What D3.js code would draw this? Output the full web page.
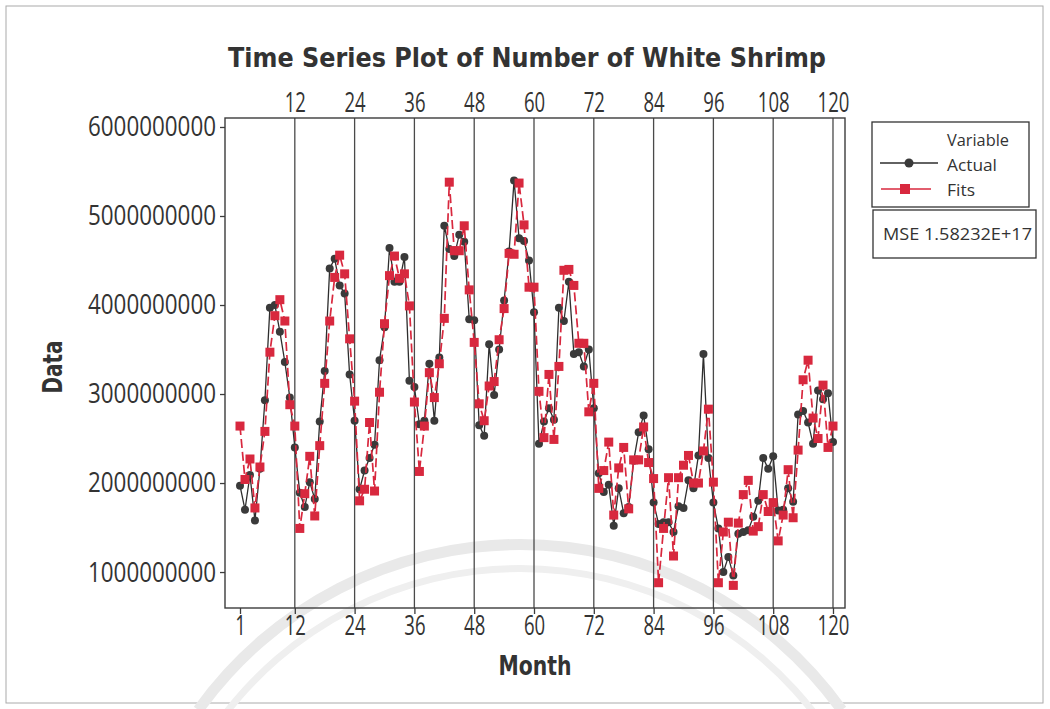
<!DOCTYPE html>
<html>
<head>
<meta charset="utf-8">
<script src="https://cdn.jsdelivr.net/npm/d3@7"></script>
<style>
  body { margin: 0; background: #fff; }
  svg { display: block; }
</style>
</head>
<body>
<svg id="chart" width="1050" height="709"></svg>
<script>
// monthly values, in billions
let months = d3.range(1, 121)
let actualBn = [
  1.97, 1.70, 2.09, 1.58, 2.16, 2.93, 3.97, 4.00, 3.70, 3.36, 2.96, 2.40,
  1.89, 1.73, 2.01, 1.82, 2.69, 3.26, 4.41, 4.52, 4.22, 4.13, 3.22, 2.70,
  1.93, 2.14, 2.28, 2.43, 3.38, 3.75, 4.64, 4.26, 4.26, 4.54, 3.15, 3.08,
  2.66, 2.70, 3.34, 2.70, 3.41, 4.89, 4.63, 4.55, 4.79, 4.71, 3.84, 3.83,
  2.65, 2.53, 3.56, 2.99, 3.50, 4.05, 4.60, 5.40, 4.75, 4.72, 4.50, 3.92,
  2.44, 2.69, 2.84, 2.71, 3.97, 3.82, 4.26, 3.45, 3.47, 3.31, 3.50, 2.84,
  2.11, 1.90, 1.98, 1.52, 1.94, 1.66, 1.73, 2.25, 2.57, 2.76, 2.38, 1.78,
  1.54, 1.56, 1.56, 1.45, 1.74, 1.72, 2.03, 1.94, 2.31, 3.45, 2.28, 1.78,
  1.49, 1.00, 1.17, 0.96, 1.43, 1.45, 1.47, 1.62, 1.80, 2.28, 2.16, 2.30,
  1.69, 1.70, 1.94, 1.79, 2.77, 2.81, 2.68, 2.44, 3.04, 2.94, 3.01, 2.46
]
let fitsBn = [
  2.64, 2.04, 2.27, 1.72, 2.18, 2.58, 3.47, 3.88, 4.06, 3.82, 2.88, 2.64,
  1.49, 1.88, 2.30, 1.63, 2.42, 3.12, 3.82, 4.31, 4.56, 4.35, 3.62, 2.92,
  1.80, 1.93, 2.68, 1.91, 3.02, 3.79, 4.33, 4.55, 4.30, 4.35, 3.99, 2.91,
  2.13, 2.64, 3.24, 2.96, 3.34, 3.85, 5.38, 4.61, 4.61, 4.89, 4.17, 3.58,
  2.89, 2.70, 3.09, 3.14, 3.61, 3.96, 4.58, 4.57, 5.37, 4.90, 4.20, 4.20,
  3.03, 2.51, 3.22, 2.49, 3.31, 4.39, 4.40, 4.22, 3.57, 3.57, 2.80, 3.12,
  1.94, 2.14, 2.46, 1.64, 2.17, 2.40, 1.71, 2.26, 2.26, 2.63, 2.23, 2.05,
  0.88, 1.49, 2.06, 1.18, 2.06, 2.20, 2.31, 2.00, 2.00, 2.36, 2.83, 2.01,
  0.88, 1.45, 1.56, 0.85, 1.55, 1.87, 2.03, 1.46, 1.51, 1.87, 1.68, 1.78,
  1.35, 1.64, 2.15, 1.61, 2.37, 3.16, 3.38, 2.73, 2.50, 3.10, 2.40, 2.64
]
let yTicks = [1e9, 2e9, 3e9, 4e9, 5e9, 6e9]
let xTicks = [1, 12, 24, 36, 48, 60, 72, 84, 96, 108, 120]
let refLines = [12, 24, 36, 48, 60, 72, 84, 96, 108, 120]
let mseText = 'MSE 1.58232E+17'

let svg = d3.select('#chart')
let red = '#d8283e'
let dark = '#3a3a3a'

let x = d3.scaleLinear().domain([-2.01, 122.41]).range([225, 845])
let y = d3.scaleLinear().domain([0.596e9, 6.101e9]).range([608, 118])

// page border + faint watermark arcs from the scan
svg.append('rect')
    .attr('x', 6).attr('y', 6).attr('width', 1037).attr('height', 697)
    .attr('fill', 'none').attr('stroke', '#aaa').attr('stroke-width', 1)

let arc = d3.arc()
;[[390, 401, '#e9e9e9'], [368, 375, '#efefef']].forEach(a => {
    svg.append('path')
        .attr('transform', 'translate(520,940)')
        .attr('d', arc({innerRadius: a[0], outerRadius: a[1], startAngle: -0.95, endAngle: 0.95}))
        .attr('fill', a[2])
})

// title
svg.append('text')
    .attr('x', 527).attr('y', 67)
    .attr('text-anchor', 'middle')
    .attr('font-family', 'DejaVu Sans')
    .attr('font-weight', 'bold')
    .attr('font-size', 27)
    .attr('textLength', 598)
    .attr('lengthAdjust', 'spacingAndGlyphs')
    .attr('fill', '#333')
    .text('Time Series Plot of Number of White Shrimp')

// reference lines at every 12 months
svg.selectAll('.ref')
    .data(refLines)
    .enter()
    .append('line')
    .attr('class', 'ref')
    .attr('x1', d => x(d)).attr('x2', d => x(d))
    .attr('y1', 118).attr('y2', 608)
    .attr('stroke', '#4a4a4a')
    .attr('stroke-width', 1.3)

// frame
svg.append('rect')
    .attr('x', 225).attr('y', 118).attr('width', 620).attr('height', 490)
    .attr('fill', 'none').attr('stroke', '#3c3c3c').attr('stroke-width', 1.4)

let styleAxis = (g, perChar, size) => {
    g.select('.domain').remove()
    g.selectAll('line').attr('stroke', '#3c3c3c').attr('stroke-width', 1.3)
    g.selectAll('text')
        .attr('font-family', 'Open Sans')
        .attr('font-size', size)
        .attr('fill', '#333')
        .attr('textLength', function () { return this.textContent.length * perChar })
        .attr('lengthAdjust', 'spacingAndGlyphs')
}

svg.append('g')
    .attr('transform', 'translate(225,0)')
    .call(d3.axisLeft(y).tickValues(yTicks).tickFormat(d3.format('d')).tickSize(5).tickPadding(4))
    .call(g => styleAxis(g, 12.8, 28))

svg.append('g')
    .attr('transform', 'translate(0,608)')
    .call(d3.axisBottom(x).tickValues(xTicks).tickSize(6).tickPadding(2))
    .call(g => styleAxis(g, 10.6, 27))

svg.append('g')
    .attr('transform', 'translate(0,118)')
    .call(d3.axisTop(x).tickValues(refLines).tickSize(0).tickPadding(6))
    .call(g => styleAxis(g, 10.6, 27))

// axis titles
svg.append('text')
    .attr('transform', 'translate(62,367) rotate(-90)')
    .attr('text-anchor', 'middle')
    .attr('font-family', 'DejaVu Sans').attr('font-weight', 'bold').attr('font-size', 27)
    .attr('textLength', 53).attr('lengthAdjust', 'spacingAndGlyphs')
    .attr('fill', '#333')
    .text('Data')

svg.append('text')
    .attr('x', 535).attr('y', 675)
    .attr('text-anchor', 'middle')
    .attr('font-family', 'DejaVu Sans').attr('font-weight', 'bold').attr('font-size', 27)
    .attr('textLength', 73).attr('lengthAdjust', 'spacingAndGlyphs')
    .attr('fill', '#333')
    .text('Month')

// series
let line = d3.line()
    .x((d, i) => x(months[i]))
    .y(d => y(d * 1e9))

svg.append('path')
    .datum(actualBn)
    .attr('d', line)
    .attr('fill', 'none')
    .attr('stroke', '#2e2e2e')
    .attr('stroke-width', 1.3)

svg.selectAll('.actual')
    .data(actualBn)
    .enter()
    .append('circle')
    .attr('class', 'actual')
    .attr('cx', (d, i) => x(months[i]))
    .attr('cy', d => y(d * 1e9))
    .attr('r', 4)
    .attr('fill', dark)

svg.append('path')
    .datum(fitsBn)
    .attr('d', line)
    .attr('fill', 'none')
    .attr('stroke', red)
    .attr('stroke-width', 1.7)
    .attr('stroke-dasharray', '9,4')

svg.selectAll('.fits')
    .data(fitsBn)
    .enter()
    .append('rect')
    .attr('class', 'fits')
    .attr('x', (d, i) => x(months[i]) - 4.5)
    .attr('y', d => y(d * 1e9) - 4.5)
    .attr('width', 9)
    .attr('height', 9)
    .attr('fill', red)

// legend
let legend = svg.append('g')
legend.append('rect')
    .attr('x', 872).attr('y', 122).attr('width', 157).attr('height', 85)
    .attr('fill', '#fff').attr('stroke', '#333').attr('stroke-width', 1.3)

let legendText = (txt, xx, yy, len) => {
    legend.append('text')
        .attr('x', xx).attr('y', yy)
        .attr('font-family', 'Open Sans').attr('font-size', 17)
        .attr('textLength', len).attr('lengthAdjust', 'spacingAndGlyphs')
        .attr('fill', '#333')
        .text(txt)
}
legendText('Variable', 947, 146, 62)
legendText('Actual', 947, 171, 50)
legendText('Fits', 947, 196, 28)

legend.append('line')
    .attr('x1', 880).attr('x2', 938).attr('y1', 163).attr('y2', 163)
    .attr('stroke', '#2e2e2e').attr('stroke-width', 1.3)
legend.append('circle')
    .attr('cx', 909).attr('cy', 163).attr('r', 4.5).attr('fill', dark)
legend.append('line')
    .attr('x1', 881).attr('x2', 931).attr('y1', 189).attr('y2', 189)
    .attr('stroke', red).attr('stroke-width', 1.6)
legend.append('rect')
    .attr('x', 900).attr('y', 184).attr('width', 10).attr('height', 10).attr('fill', red)

legend.append('rect')
    .attr('x', 873).attr('y', 210).attr('width', 163).attr('height', 48)
    .attr('fill', '#fff').attr('stroke', '#333').attr('stroke-width', 1.3)
legendText(mseText, 883, 240, 149)
</script>
</body>
</html>
